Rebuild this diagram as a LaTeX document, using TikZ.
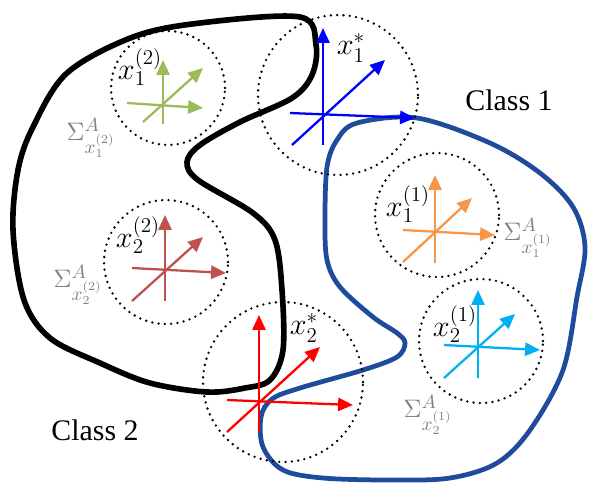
\documentclass[tikz,border=0pt]{standalone}
\usepackage{fontspec}
\setmainfont{Liberation Serif}
\newfontfamily\classfont{Liberation Serif}
\usetikzlibrary{arrows.meta,calc}

\definecolor{frgreen}{HTML}{9BBB59}
\definecolor{frblue}{HTML}{0000FF}
\definecolor{frorange}{HTML}{F79646}
\definecolor{frcyan}{HTML}{00B0F0}
\definecolor{frbrown}{HTML}{C0504D}
\definecolor{frred}{HTML}{FF0000}
\definecolor{classblue}{HTML}{1E4B9B}

\begin{document}
\begin{tikzpicture}[
  x=0.02cm, y=-0.02cm,
  frame/.style={circle, draw, line width=1.5pt, dash pattern=on 0pt off 3.6pt, line cap=round, inner sep=0pt},
  axis/.style={-{Triangle[length=8.5pt, width=7.5pt]}, line width=1.3pt},
  coord/.style={font=\fontsize{18}{21}\selectfont, inner sep=0pt},
  cov/.style={font=\fontsize{15}{17}\selectfont, text=black!50, inner sep=0pt},
  classlabel/.style={font=\classfont\fontsize{17}{20}\selectfont, inner sep=0pt},
  boundary/.style={line width=3.2pt, line join=round},
]
\useasboundingbox (0,0) rectangle (590,484);

% === CLASS BOUNDARIES ===
\draw[boundary, classblue, line width=2.7pt] plot[smooth cycle, tension=0.55] coordinates {
  (357,123) (417,118) (490,143) (540,173) (573,207) (585,247) (577,297)
  (563,370) (530,430) (497,463) (450,478) (390,480) (323,478) (283,470)
  (263,447) (261,417) (272,399) (300,388) (363,370) (397,357) (405,343)
  (397,333) (373,317) (340,287) (327,260) (325,220) (327,167) (337,140)};

\draw[boundary] plot[smooth cycle, tension=0.55] coordinates {
  (133,37) (200,23) (300,17) (316,45) (312,75) (292,98) (240,122) (200,145)
  (187,162) (198,180) (253,213) (275,240) (282,290) (283,350) (270,380)
  (245,388) (207,392) (150,383) (100,363) (50,338) (24,300) (13,230)
  (18,170) (33,127) (67,73)};

% === LOCAL FRAMES ===
\node[frame, minimum size=2.28cm] (fx12) at (168,88) {};
\node[frame, minimum size=3.2cm] (fx1s) at (338,95) {};
\node[frame, minimum size=2.48cm] (fx11) at (437,215) {};
\node[frame, minimum size=2.48cm] (fx21) at (481,341) {};
\node[frame, minimum size=2.48cm] (fx22) at (166,262) {};
\node[frame, minimum size=3.2cm] (fx2s) at (283,382) {};

% name / origin / down / up / left / right / diag start / diag end / colour
\foreach \n/\ox/\oy/\dn/\up/\lf/\rt/\ax/\ay/\bx/\by/\col in {
    g/163/105/19/45/36/40/20/17/40/37/frgreen,
    b/323/115/30/87/33/92/31/30/62/55/frblue,
    o/435/232/31/57/32/60/32/30/37/34/frorange,
    c/478/347/31/57/34/62/34/31/37/33/frcyan,
    r/165/270/31/55/33/61/33/31/38/33/frbrown,
    s/259/402/30/87/32/94/32/30/61/55/frred}{
  \coordinate (o\n) at (\ox,\oy);
  \draw[axis, \col] ($(o\n)+(0,\dn)$) -- ($(o\n)+(0,-\up)$);
  \draw[axis, \col] ($(o\n)+(-\lf,-2)$) -- ($(o\n)+(\rt,3)$);
  \draw[axis, \col] ($(o\n)+(-\ax,\ay)$) -- ($(o\n)+(\bx,-\by)$);
}

% === LABELS ===
\node[coord] (lx12) at (140,67) {$x_1^{(2)}$};
\node[coord] (lx1s) at (351,48) {$x_1^{*}$};
\node[coord] (lx11) at (408,204) {$x_1^{(1)}$};
\node[coord] (lx21) at (455,324) {$x_2^{(1)}$};
\node[coord] (lx22) at (138,235) {$x_2^{(2)}$};
\node[coord] (lx2s) at (304,328) {$x_2^{*}$};

\node[cov] (s12) at (91,138) {$\Sigma^A_{x_1^{(2)}}$};
\node[cov] (s11) at (528,238) {$\Sigma^A_{x_1^{(1)}}$};
\node[cov] (s22) at (78,285) {$\Sigma^A_{x_2^{(2)}}$};
\node[cov] (s21) at (428,415) {$\Sigma^A_{x_2^{(1)}}$};

\node[classlabel] (c1) at (509,100) {Class 1};
\node[classlabel] (c2) at (95,430) {Class 2};
\end{tikzpicture}
\end{document}
